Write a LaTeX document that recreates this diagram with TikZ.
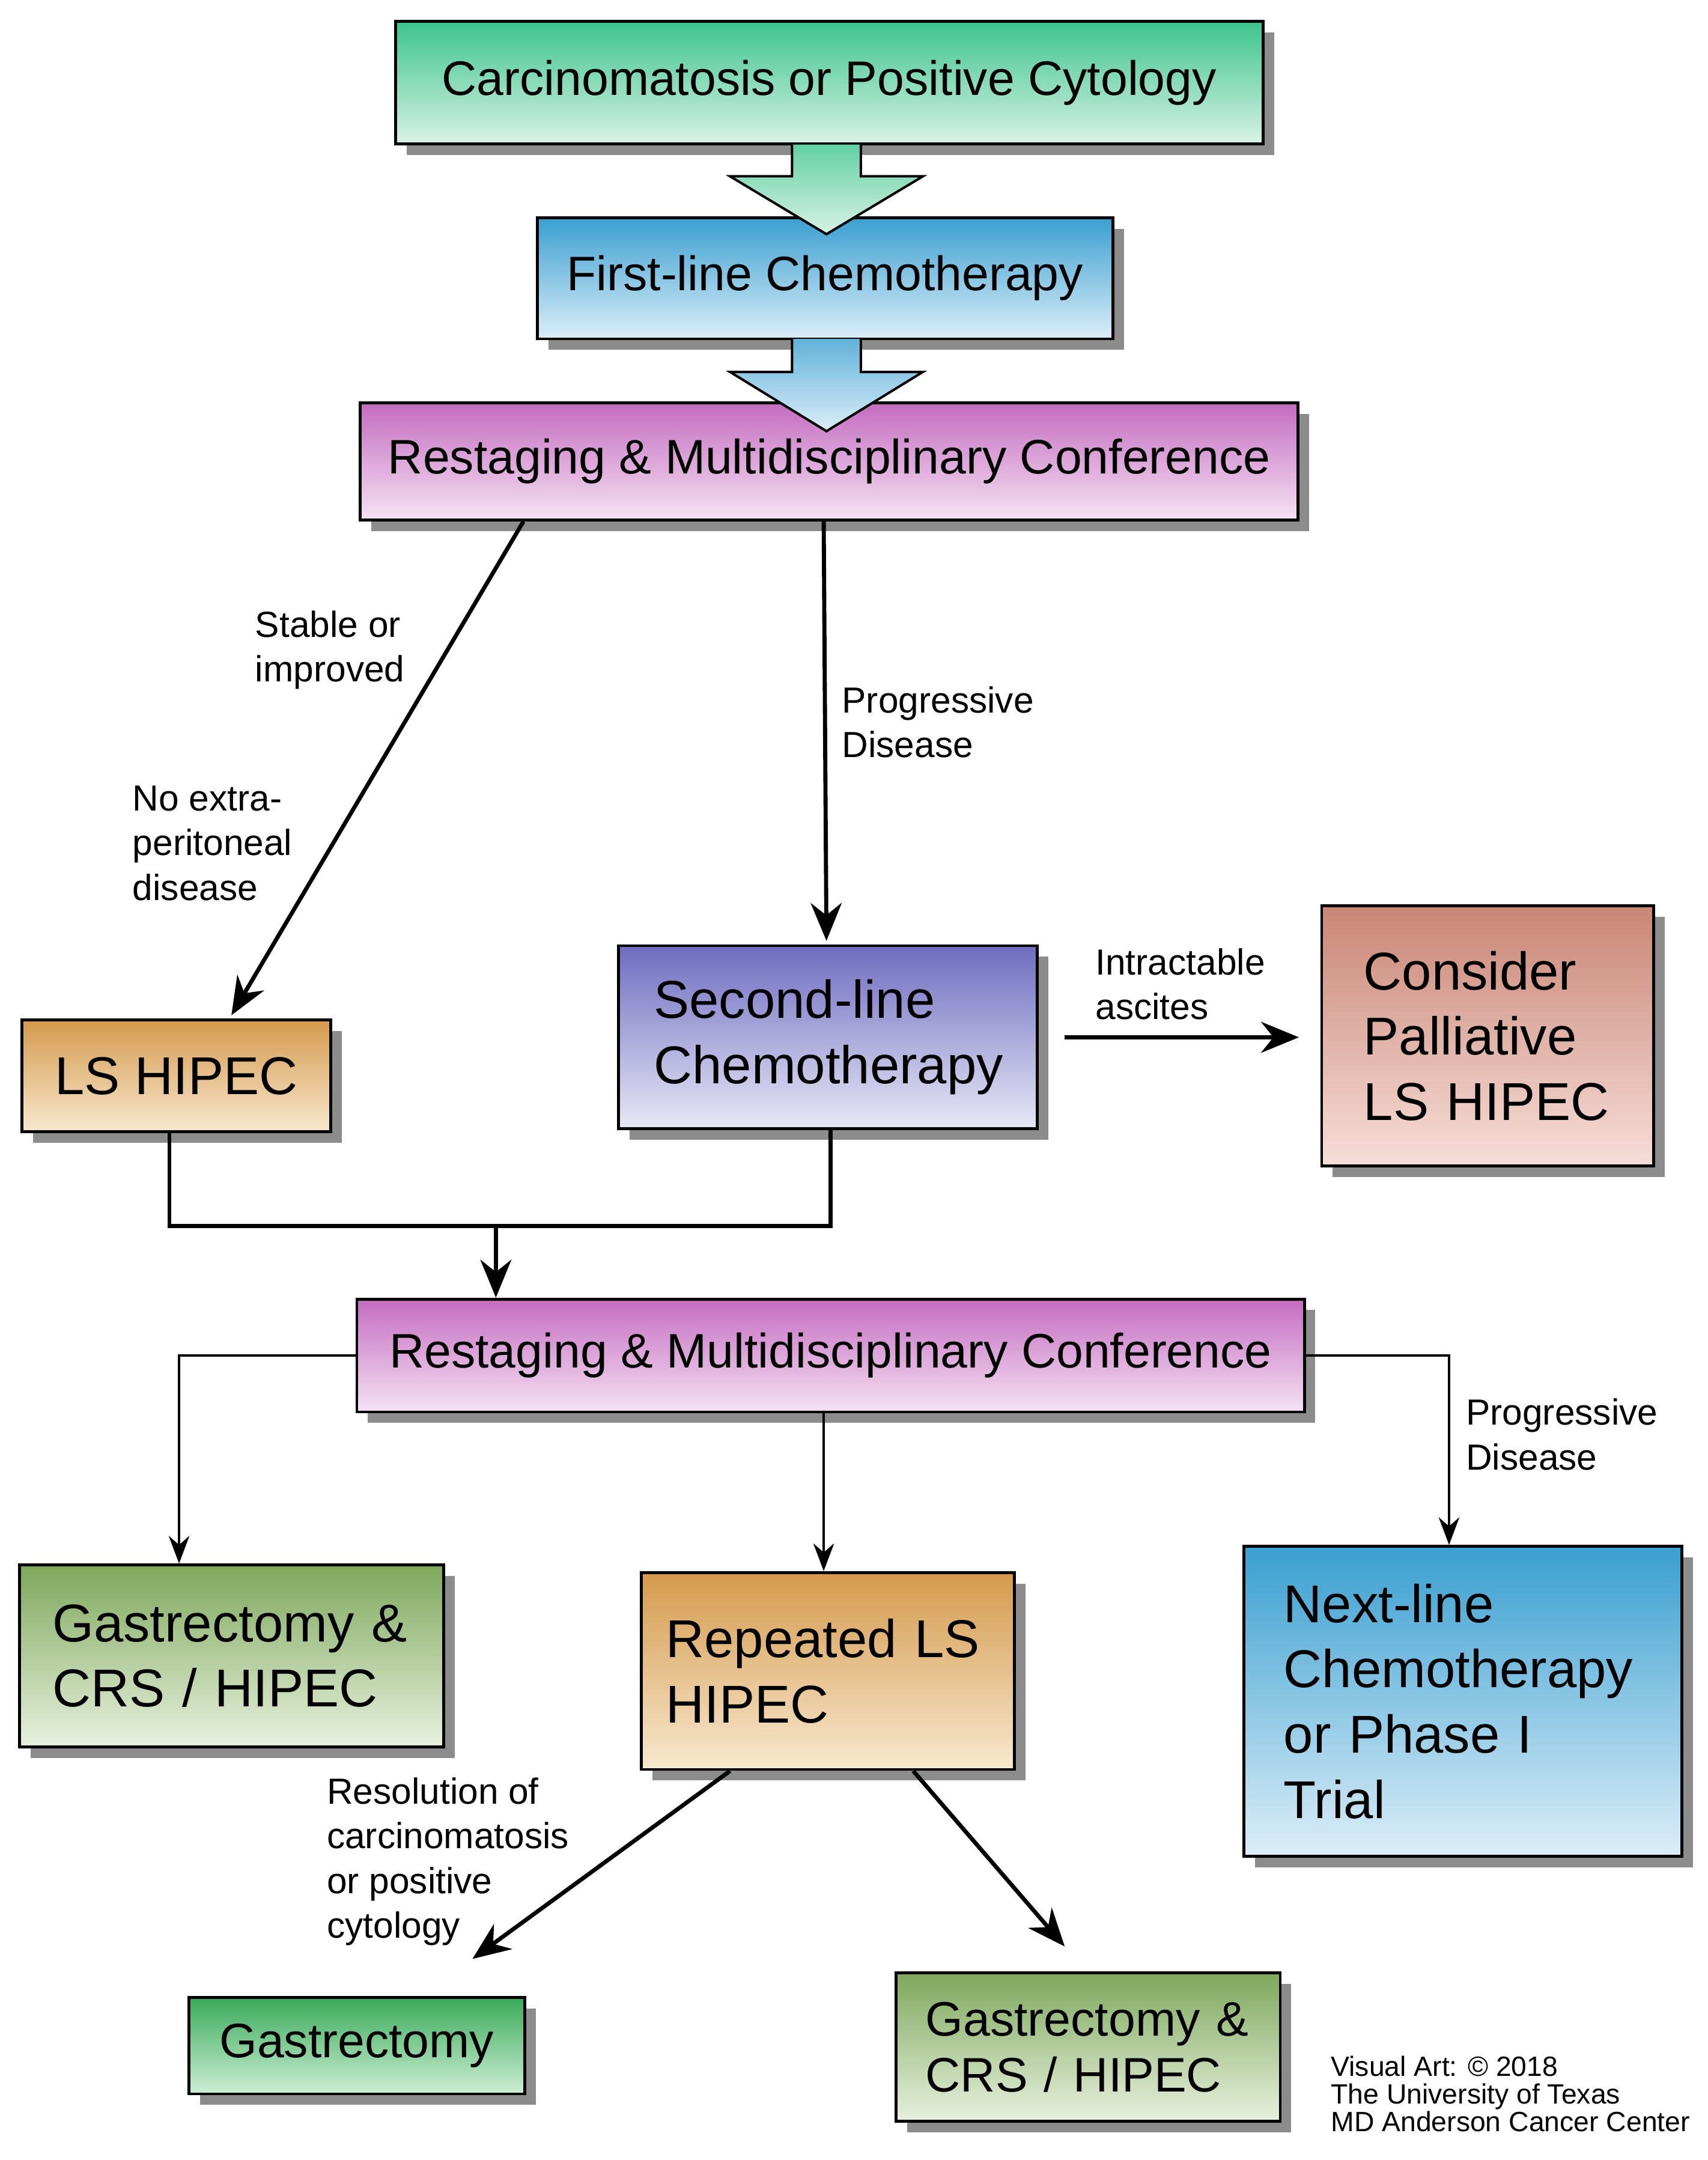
\documentclass[tikz,border=0pt]{standalone}
\usepackage{fontspec}
\setmainfont{Liberation Sans}
\usetikzlibrary{positioning,shadows,arrows.meta}
\definecolor{grnT}{HTML}{3CC48E}\definecolor{grnB}{HTML}{D8F2E6}
\definecolor{bluT}{HTML}{3A9FD0}\definecolor{bluB}{HTML}{DCEEF8}
\definecolor{purT}{HTML}{C46CC0}\definecolor{purB}{HTML}{F5E2F3}
\definecolor{tanT}{HTML}{D49A4D}\definecolor{tanB}{HTML}{F8E8CF}
\definecolor{vioT}{HTML}{6F6CC0}\definecolor{vioB}{HTML}{E8E8F6}
\definecolor{redT}{HTML}{C98676}\definecolor{redB}{HTML}{F7DED8}
\definecolor{oliT}{HTML}{7EA85C}\definecolor{oliB}{HTML}{E8F0DE}
\definecolor{gstT}{HTML}{3AAA5A}\definecolor{gstB}{HTML}{CDEED5}

\begin{document}
\begin{tikzpicture}[
    x=0.02cm, y=-0.02cm,
    box/.style={
        rectangle,
        draw=black,
        line width=1.2pt,
        drop shadow={shadow xshift=0.16cm, shadow yshift=-0.16cm, fill=black!45, opacity=1},
        text centered,
        font=\fontsize{20}{23}\selectfont
    },
    big/.style={
        box,
        align=left,
        inner xsep=0.5cm,
        font=\fontsize{22}{27}\selectfont
    },
    lbl/.style={align=left, anchor=north west, inner sep=0pt, font=\fontsize{15}{18.5}\selectfont},
    arrow/.style={-{Stealth[length=0.55cm, width=0.45cm]}, line width=1.7pt},
    thin/.style={-{Stealth[length=0.4cm, width=0.3cm]}, line width=1.1pt}
]
    \useasboundingbox (0,0) rectangle (1240,1568);

    % Top chain
    \node[box, minimum width=12.6cm, minimum height=1.78cm, top color=grnT, bottom color=grnB] (carc) at (602,60) {Carcinomatosis or Positive Cytology};
    \node[box, minimum width=8.36cm, minimum height=1.76cm, top color=bluT, bottom color=bluB] (first) at (599,202) {First-line Chemotherapy};
    \node[box, minimum width=13.62cm, minimum height=1.7cm, top color=purT, bottom color=purB] (restA) at (602,335) {Restaging \& Multidisciplinary Conference};

    % Block arrows
    \path[draw=black, line width=1pt, top color=grnT!80, bottom color=grnB]
        (575,105) -- (575,128) -- (530,128) -- (600,170) -- (670,128) -- (625,128) -- (625,105);
    \path[draw=black, line width=1pt, top color=bluT!80, bottom color=bluB]
        (575,246) -- (575,270) -- (530,270) -- (600,313) -- (670,270) -- (625,270) -- (625,246);

    % Middle row
    \node[big, minimum width=4.48cm, minimum height=1.62cm, inner xsep=0.3cm, top color=tanT, bottom color=tanB] (lsA) at (128,781) {LS HIPEC};
    \node[big, minimum width=6.08cm, minimum height=2.66cm, text width=5.05cm, top color=vioT, bottom color=vioB] (second) at (601,753) {Second-line\\Chemotherapy};
    \node[big, minimum width=4.82cm, minimum height=3.78cm, text width=3.6cm, inner xsep=0.6cm, top color=redT, bottom color=redB] (pall) at (1080,752) {Consider\\Palliative\\LS HIPEC};

    \node[box, minimum width=13.76cm, minimum height=1.64cm, top color=purT, bottom color=purB] (restB) at (603,984) {Restaging \& Multidisciplinary Conference};

    % Lower row
    \node[big, minimum width=6.16cm, minimum height=2.64cm, text width=5.2cm, inner xsep=0.45cm, top color=oliT, bottom color=oliB] (gcrsA) at (168,1202) {Gastrectomy \&\\CRS / HIPEC};
    \node[big, minimum width=5.42cm, minimum height=2.86cm, text width=4.7cm, inner xsep=0.35cm, top color=tanT, bottom color=tanB] (lsB) at (601,1213) {Repeated LS\\HIPEC\\[0.8cm]};
    \node[big, minimum width=6.36cm, minimum height=4.5cm, text width=5.2cm, inner xsep=0.55cm, top color=bluT, bottom color=bluB] (next) at (1062,1235) {Next-line\\Chemotherapy\\or Phase I\\Trial};
    \node[box, minimum width=4.88cm, minimum height=1.4cm, top color=gstT, bottom color=gstB] (gast) at (259,1485) {Gastrectomy};
    \node[big, minimum width=5.58cm, minimum height=2.16cm, text width=4.72cm, inner xsep=0.42cm, font=\fontsize{20}{23}\selectfont, top color=oliT, bottom color=oliB] (gcrsB) at (790,1486) {Gastrectomy \&\\CRS / HIPEC};

    % Connectors
    \coordinate (jn) at (360,890);
    \coordinate (lsAin) at (168,737);
    \coordinate (secIn) at (600,683);
    \coordinate (palIn) at (943,753);
    \draw[arrow] (restA.south -| 380,0) -- (lsAin);
    \draw[arrow] (restA.south -| 598,0) -- (secIn);
    \draw[arrow] (773,753) -- (palIn);
    \draw[line width=1.7pt] (lsA.south -| 123,0) |- (jn) -| (second.south -| 603,0);
    \draw[arrow] (jn) -- (restB.north -| jn);
    \draw[thin] (restB.west) -| (gcrsA.north -| 130,0);
    \draw[thin] (restB.south -| 598,0) -- (lsB.north -| 598,0);
    \draw[thin] (restB.east) -| (next.north -| 1052,0);
    \draw[arrow] (lsB.south -| 530,0) -- (343,1422);
    \draw[arrow] (lsB.south -| 663,0) -- (773,1413);

    % Labels
    \node[lbl] (l1) at (185,443) {Stable or\\improved};
    \node[lbl] (l2) at (96,570) {No extra-\\peritoneal\\disease};
    \node[lbl] (l3) at (611,498) {Progressive\\Disease};
    \node[lbl] (l4) at (795,688) {Intractable\\ascites};
    \node[lbl] (l5) at (1064,1015) {Progressive\\Disease};
    \node[lbl] (l6) at (237,1290) {Resolution of\\carcinomatosis\\or positive\\cytology};
    \node[lbl, font=\fontsize{11.5}{11.5}\selectfont] (credit) at (966,1492) {Visual Art: \textcopyright{} 2018\\The University of Texas\\MD Anderson Cancer Center};
\end{tikzpicture}
\end{document}
